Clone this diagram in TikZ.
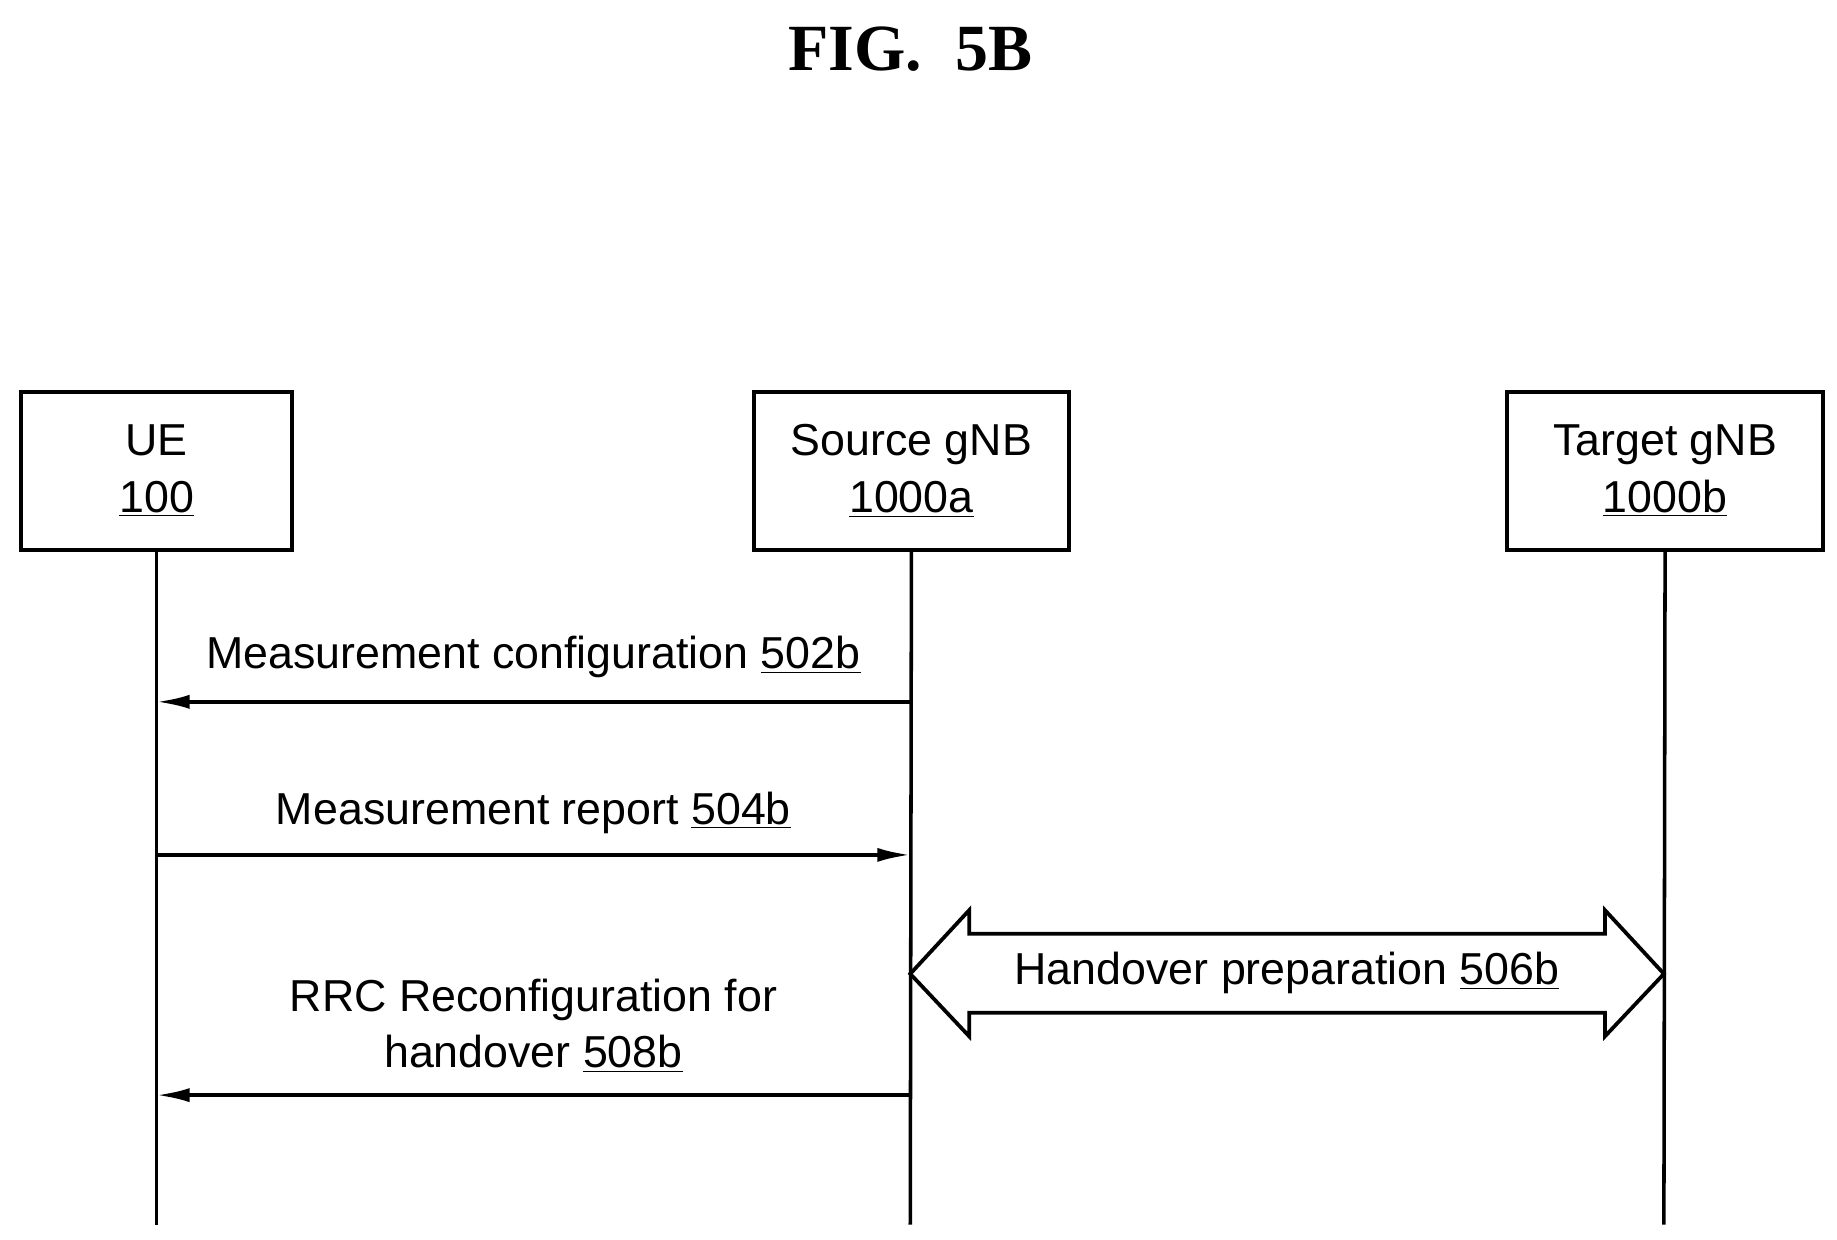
\documentclass[tikz,border=0pt]{standalone}
\usepackage{fontspec}
\setmainfont{Liberation Sans}
\newfontfamily\titlefont{Liberation Serif}
\usetikzlibrary{arrows.meta}
\begin{document}
\begin{tikzpicture}[x=0.5pt,y=-0.5pt,
  box/.style={draw,line width=1.6pt,minimum width=115pt,minimum height=67pt,align=center,font=\fontsize{19}{24}\selectfont},
  life/.style={line width=1.5pt},
  msg/.style={line width=1.5pt,-{Latex[length=14pt,width=6pt]}},
  lbl/.style={font=\fontsize{19}{24}\selectfont,align=center}]
\useasboundingbox (0,0) rectangle (1560,1053);
\node[font=\titlefont\bfseries\fontsize{28}{32}\selectfont] (title) at (773,42) {FIG.\ \ 5B};
\node[box] (ue) at (133,400) {UE\\\underline{100}};
\node[box,minimum width=134pt] (src) at (774,400) {Source gNB\\\underline{1000a}};
\node[box,minimum width=134pt] (tgt) at (1414,400) {Target gNB\\\underline{1000b}};
\coordinate (ueb) at (133,1040);
\coordinate (srcb) at (773,1040);
\coordinate (tgtb) at (1413,1040);
\draw[life] (ue.south) -- (ueb);
\draw[life] (src.south) -- (srcb);
\draw[life] (tgt.south) -- (tgtb);
\coordinate (s1) at (773,596); \coordinate (u1) at (133,596);
\draw[msg] (s1) -- (u1);
\node[lbl] (l1) at (453,558) {Measurement configuration \underline{502b}};
\coordinate (s2) at (773,726); \coordinate (u2) at (133,726);
\draw[msg] (u2) -- (s2);
\node[lbl] (l2) at (453,690) {Measurement report \underline{504b}};
\draw[line width=1.6pt,line join=miter] (773,827) -- (823,773) -- (823,793) -- (1363,793) -- (1363,773) -- (1413,827) -- (1363,880) -- (1363,860) -- (823,860) -- (823,880) -- cycle;
\node[lbl] (l3) at (1093,826) {Handover preparation \underline{506b}};
\coordinate (s4) at (773,930); \coordinate (u4) at (133,930);
\draw[msg] (s4) -- (u4);
\node[lbl] (l4) at (453,871) {RRC Reconfiguration for\\handover \underline{508b}};
\end{tikzpicture}
\end{document}
